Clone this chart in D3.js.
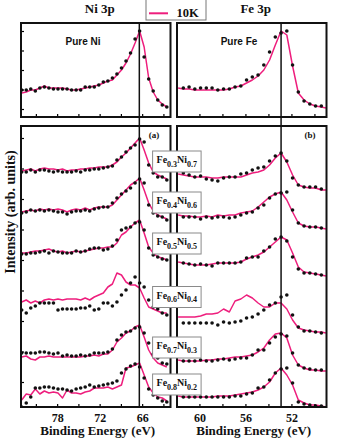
<!DOCTYPE html>
<html lang="en">
<head>
<meta charset="UTF-8">
<title>Ni 3p / Fe 3p</title>
<script src="https://cdn.jsdelivr.net/npm/d3@7"></script>
<style>
  body { margin: 0; background: #fff; }
  svg text { font-family: "Liberation Serif", "Times New Roman", serif; font-weight: bold; fill: #111; }
</style>
</head>
<body>
<div id="chart"></div>
<script>
// binding energies (eV) of the sampled points
const niEnergy = [83.00, 82.36, 81.72, 81.08, 80.44, 79.80, 79.16, 78.52, 77.88, 77.24, 76.60,
  75.96, 75.32, 74.68, 74.04, 73.40, 72.76, 72.12, 71.48, 70.84, 70.20, 69.56, 68.92, 68.28,
  67.64, 67.00, 66.36, 65.72, 65.08, 64.44, 63.80, 63.16, 62.52];
const feDotEnergy = [61.4, 60.9, 60.4, 59.9, 59.4, 58.9, 58.4, 57.9, 57.4, 56.9, 56.4, 55.9,
  55.4, 54.9, 54.4, 53.9, 53.4, 52.9, 52.4, 51.9, 51.4, 50.9, 50.4, 49.9, 49.4];
const feLineEnergy = [61.85, 61.4, 60.9, 60.4, 59.9, 59.4, 58.9, 58.4, 57.9, 57.4, 56.9, 56.4,
  55.9, 55.4, 54.9, 54.4, 53.9, 53.4, 52.9, 52.4, 51.9, 51.4, 50.9, 50.4, 49.9, 49.4, 49.0];

const feFrac = ["0.3", "0.4", "0.5", "0.6", "0.7", "0.8"];
const niFrac = ["0.7", "0.6", "0.5", "0.4", "0.3", "0.2"];

// vertical offsets of the stacked spectra (arb. units)
const niOffsets = [225, 185, 145, 90, 38, 2];
const feOffsets = [215, 176, 130, 72, 34, 0];

// pure metals: 300K dots, 10K line
const pureNi300 = [27,27,28,26,29,30,29,28,28,28,28,27,27,27,30,30,30,32,35,36,39,43,49,56,64,78,86,60,38,26,17,12,10];
const pureNi10  = [24,25,27,27,29,31,29,29,29,29,28,27,27,28,29,30,31,32,34,36,37,42,47,54,63,74,86,70,39,25,17,13,10];
const pureFe300 = [29,30,28,29,29,29,27,28,28,30,31,37,40,42,52,65,80,84,86,52,25,16,13,11,11];
const pureFe10  = [29,28,28,27,27,27,27,27,27,28,30,31,34,37,41,47,57,72,86,82,51,24,17,13,11,10,9];

// alloys Ni 3p, Fe0.3 .. Fe0.8
const ni300 = [
  [10,10,12,10,12,12,11,10,11,10,10,10,11,10,12,12,13,13,14,15,16,22,25,30,34,37,43,40,17,9,5,5,2],
  [9,10,12,11,12,11,12,11,10,10,8,10,11,11,12,11,13,14,15,15,19,24,28,31,34,39,43,39,17,9,6,5,2],
  [8,8,9,9,10,11,9,11,10,9,9,9,11,10,11,13,14,14,12,13,16,22,32,34,35,39,40,32,14,7,5,3,2],
  [7,4,9,11,14,14,14,14,7,8,8,8,8,9,9,11,7,8,14,14,11,15,22,27,34,40,34,30,17,10,8,4,2],
  [16,16,16,16,17,17,16,15,16,13,14,13,13,14,13,14,16,16,16,17,20,29,34,37,38,41,42,36,26,15,11,6,5],
  [-2,2,8,17,17,18,18,17,16,16,15,14,16,17,18,20,18,19,20,21,22,24,32,36,39,41,38,27,16,10,7,4,3]
];
const ni10 = [
  [11,12,13,11,13,14,13,13,12,13,11,12,12,13,13,14,14,15,15,15,17,20,25,29,34,39,44,32,19,10,7,5,3],
  [10,11,12,11,13,12,13,12,13,12,10,12,13,12,14,12,14,15,15,15,17,22,27,32,37,40,44,32,19,11,7,5,3],
  [9,9,10,11,11,12,13,11,10,11,9,10,11,10,11,12,13,14,14,15,15,19,27,30,35,39,42,29,15,9,5,4,2],
  [15,17,14,16,14,17,18,17,18,17,18,18,18,17,19,17,20,22,24,30,33,44,42,35,32,32,29,19,10,8,6,4,4],
  [12,13,10,9,12,12,13,12,12,12,12,12,12,12,13,13,14,13,15,15,19,27,31,36,38,42,44,32,19,11,6,4,2],
  [5,11,10,16,11,14,12,13,12,7,15,12,12,11,13,14,17,17,17,18,16,18,20,37,38,40,42,30,18,12,8,7,4]
];

// alloys Fe 3p
const fe300 = [
  [19,17,15,16,13,12,11,14,15,15,18,19,22,24,25,31,36,39,31,14,7,5,5,5,3],
  [14,14,14,12,14,13,14,14,13,14,16,18,19,23,26,33,37,38,39,21,8,5,4,4,3],
  [14,13,12,13,12,11,14,14,14,14,15,19,20,20,26,30,38,40,36,20,8,4,4,3,2],
  [12,12,12,12,12,12,10,13,12,13,14,17,18,21,25,30,32,38,40,20,8,4,4,3,2],
  [12,12,12,13,12,12,13,14,13,14,15,15,18,23,23,30,36,39,37,20,8,5,4,3,3],
  [10,10,10,10,10,10,10,10,10,11,11,13,14,19,20,27,34,38,39,24,5,3,2,1,1]
];
const fe10 = [
  [18,17,16,15,15,15,14,14,15,15,15,15,17,19,20,22,27,34,39,30,17,7,5,4,4,2,2],
  [16,15,15,14,14,15,14,16,15,16,16,18,19,20,24,29,34,37,39,31,19,8,5,4,4,3,2],
  [15,14,13,12,12,12,13,14,14,14,14,15,18,20,22,25,30,35,40,37,24,10,5,4,3,2,1],
  [18,18,18,18,19,21,21,22,26,23,34,36,40,37,32,28,28,32,32,26,15,7,5,4,3,3,2],
  [13,12,12,12,12,13,13,14,14,15,16,16,17,18,21,25,33,39,40,35,18,8,5,3,3,2,2],
  [11,10,10,10,10,10,10,11,11,11,12,13,14,15,17,20,25,34,39,32,22,7,4,2,2,1,0]
];

const niTicks = [81, 78, 75, 72, 69, 66, 63], niTickLabels = [78, 72, 66];
const feTicks = [60, 58, 56, 54, 52, 50], feTickLabels = [60, 56, 52];
const edges = [66.4, 52.9];
const topYTicks = [8, 27.5, 47, 66.5, 86];
const bottomYTicks = [25, 55.5, 86, 116.5, 147, 177.5, 208, 238.5, 269];

const pink = "#ee1e7d";
const width = 340, height = 440;

const svg = d3.select("#chart").append("svg")
    .attr("width", width).attr("height", height);

const xNi = d3.scaleLinear().domain([83.1, 62.0]).range([21, 170.5]);
const xFe = d3.scaleLinear().domain([61.95, 48.95]).range([177, 326.5]);
const yTop = d3.scaleLinear().domain([0, 94]).range([117, 23]);
const yBot = d3.scaleLinear().domain([0, 281]).range([407, 126]);

const columns = [
  { x: xNi, dotE: niEnergy, lineE: niEnergy, pure: [pureNi300, pureNi10], dots: ni300, lines: ni10,
    offsets: niOffsets, ticks: niTicks, labels: niTickLabels, edge: edges[0],
    title: "Ni 3p", pureName: "Pure Ni", tag: "(a)", yticks: true },
  { x: xFe, dotE: feDotEnergy, lineE: feLineEnergy, pure: [pureFe300, pureFe10], dots: fe300, lines: fe10,
    offsets: feOffsets, ticks: feTicks, labels: feTickLabels, edge: edges[1],
    title: "Fe 3p", pureName: "Pure Fe", tag: "(b)", yticks: false }
];

function panel(c, ci, y, dotSets, lineSets, offsets, yTicks, showLabels, id) {
  const [x0, x1] = c.x.range();
  const [yb, yt] = y.range();
  svg.append("clipPath").attr("id", id)
    .append("rect").attr("x", x0).attr("y", yt).attr("width", x1 - x0).attr("height", yb - yt);
  const g = svg.append("g").attr("clip-path", `url(#${id})`);

  dotSets.forEach((vals, k) => {
    const off = offsets[k];
    const line = d3.line()
      .x((d, i) => c.x(c.lineE[i]))
      .y(d => y(d + off));
    g.append("path")
      .attr("d", line(lineSets[k]))
      .attr("fill", "none")
      .attr("stroke", pink)
      .attr("stroke-width", 1.5)
      .attr("stroke-linejoin", "round");
    g.selectAll(null).data(vals).enter().append("circle")
      .attr("cx", (d, i) => c.x(c.dotE[i]))
      .attr("cy", d => y(d + off))
      .attr("r", 1.8)
      .attr("fill", "#111");
  });

  const ax = svg.append("g")
    .attr("transform", `translate(0,${yb})`)
    .call(d3.axisBottom(c.x).tickValues(c.ticks).tickSizeInner(-3).tickSizeOuter(0).tickPadding(6)
      .tickFormat(d => showLabels && c.labels.includes(d) ? d : ""));
  ax.select(".domain").remove();
  ax.selectAll("line").attr("stroke-width", 1.2);
  ax.selectAll("text").attr("font-size", 12);

  if (c.yticks) {
    const ay = svg.append("g")
      .attr("transform", `translate(${x0},0)`)
      .call(d3.axisLeft(y).tickValues(yTicks).tickSizeInner(-3).tickSizeOuter(0).tickFormat(""));
    ay.select(".domain").remove();
    ay.selectAll("line").attr("stroke-width", 1.2);
  }

  svg.append("rect")
    .attr("x", x0).attr("y", yt).attr("width", x1 - x0).attr("height", yb - yt)
    .attr("fill", "none").attr("stroke", "#111").attr("stroke-width", 2);
}

columns.forEach((c, ci) => {
  panel(c, ci, yTop, [c.pure[0]], [c.pure[1]], [0], topYTicks, false, "clipTop" + ci);
  panel(c, ci, yBot, c.dots, c.lines, c.offsets, bottomYTicks, true, "clipBot" + ci);

  const ex = c.x(c.edge);
  svg.append("line")
    .attr("x1", ex).attr("x2", ex).attr("y1", yTop.range()[1]).attr("y2", yBot.range()[0])
    .attr("stroke", "#111").attr("stroke-width", 1.5);

  const [x0, x1] = c.x.range();
  const cx = (x0 + x1) / 2;
  svg.append("text").attr("x", cx + 4).attr("y", 13).attr("text-anchor", "middle")
    .attr("font-size", 13).text(c.title);
  svg.append("text").attr("x", x0 + 62).attr("y", 45).attr("text-anchor", "middle")
    .attr("font-size", 10)
    .style("font-family", '"Liberation Sans", Arial, sans-serif')
    .text(c.pureName);
  svg.append("text").attr("x", x1 - 16.5).attr("y", 138).attr("text-anchor", "middle")
    .attr("font-size", 9).text(c.tag);
  svg.append("text").attr("x", cx + 2).attr("y", 435).attr("text-anchor", "middle")
    .attr("font-size", 13).text("Binding Energy (eV)");
});

// y axis title
svg.append("text")
  .attr("transform", "translate(15,212) rotate(-90)")
  .attr("text-anchor", "middle")
  .attr("font-size", 14)
  .text("Intensity (arb. units)");

// composition tags straddling the two columns
const tagY = [161.5, 202.5, 243.5, 297, 347.5, 384.5];
feFrac.forEach((f, k) => {
  const g = svg.append("g").attr("transform", `translate(176.8,${tagY[k]})`);
  g.append("rect").attr("x", -24.2).attr("y", -10.5).attr("width", 48.5).attr("height", 21)
    .attr("fill", "#fff").attr("stroke", "#8a8a8a").attr("stroke-width", 1);
  const t = g.append("text").attr("x", 0).attr("y", 1.5).attr("text-anchor", "middle")
    .attr("font-size", 10);
  t.append("tspan").text("Fe");
  t.append("tspan").attr("dy", 3.5).attr("font-size", 8).text(f);
  t.append("tspan").attr("dy", -3.5).text("Ni");
  t.append("tspan").attr("dy", 3.5).attr("font-size", 8).text(niFrac[k]);
});

// legend (its upper part runs off the top edge)
const lg = svg.append("g");
lg.append("rect").attr("x", 146).attr("y", -14).attr("width", 60).attr("height", 34)
  .attr("fill", "#fff").attr("stroke", "#777").attr("stroke-width", 1);
lg.append("line").attr("x1", 149).attr("x2", 168).attr("y1", 13.3).attr("y2", 13.3)
  .attr("stroke", pink).attr("stroke-width", 2);
lg.append("text").attr("x", 176.5).attr("y", 16.5).attr("font-size", 12.5).text("10K");
</script>
</body>
</html>
